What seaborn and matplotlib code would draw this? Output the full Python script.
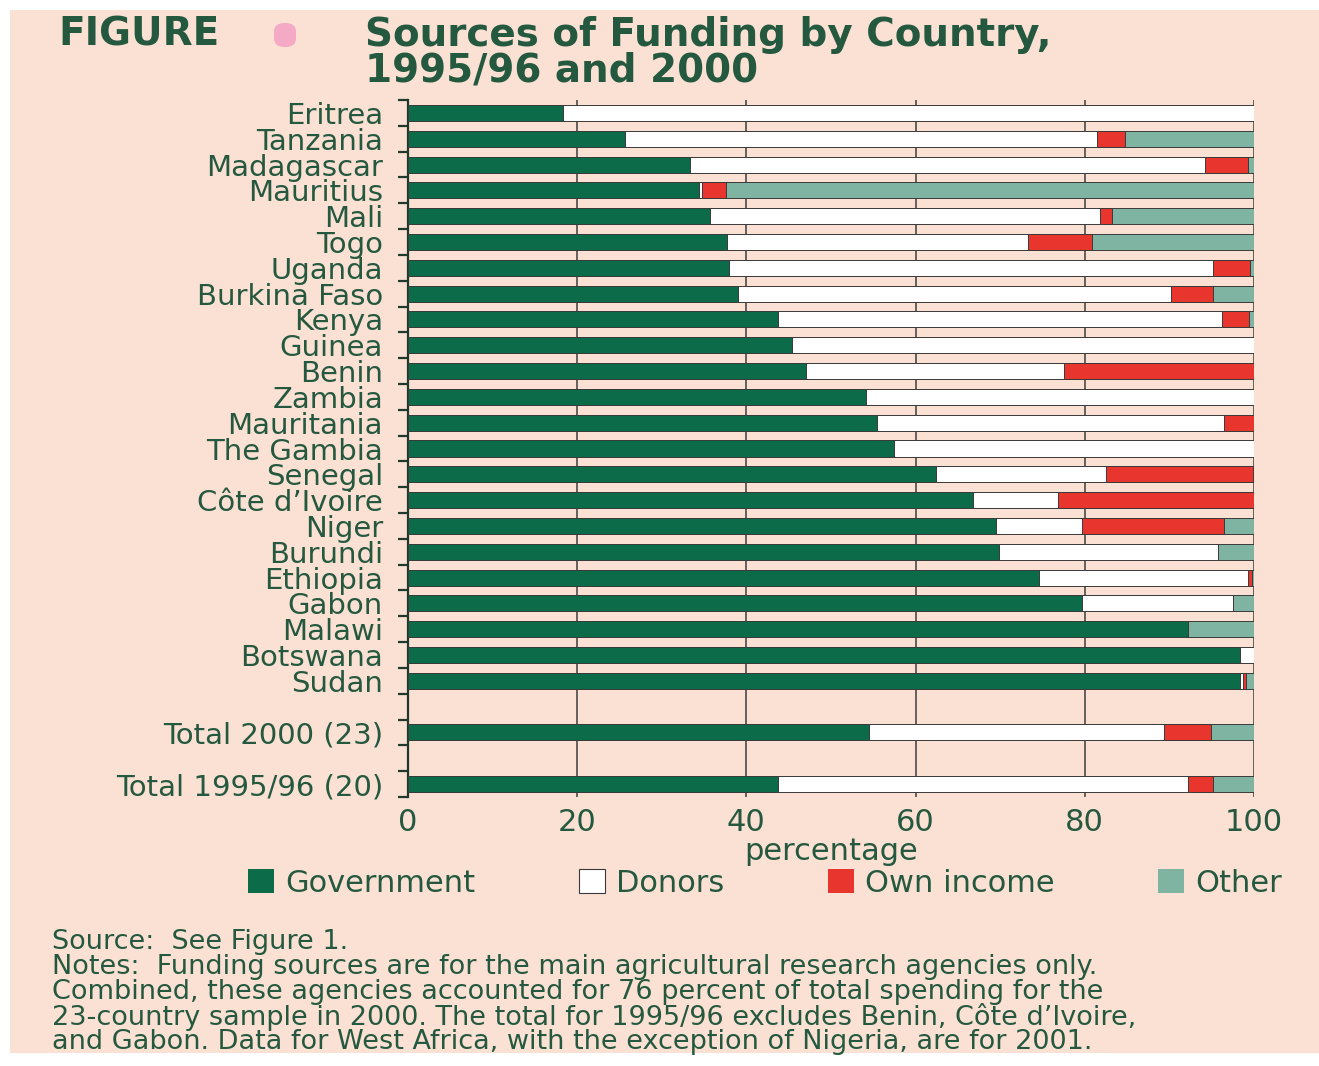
"""
Sources of funding for agricultural research agencies by country,
1995/96 and 2000 - stacked horizontal bar chart (percent shares).
"""

import matplotlib
matplotlib.use("Agg")
import matplotlib.pyplot as plt
from matplotlib.patches import Patch, Rectangle, FancyBboxPatch
import pandas as pd
import seaborn as sns

# Data (percent shares)
countries = [
    "Eritrea", "Tanzania", "Madagascar", "Mauritius", "Mali", "Togo", "Uganda",
    "Burkina Faso", "Kenya", "Guinea", "Benin", "Zambia", "Mauritania",
    "The Gambia", "Senegal", "Côte d’Ivoire", "Niger", "Burundi", "Ethiopia",
    "Gabon", "Malawi", "Botswana", "Sudan",
    "Total 2000 (23)", "Total 1995/96 (20)",
]
government = [18.3, 25.6, 33.3, 34.4, 35.7, 37.7, 37.9, 39.0, 43.7, 45.4, 47.0,
              54.1, 55.4, 57.4, 62.4, 66.8, 69.5, 69.9, 74.6, 79.7, 92.2, 98.3,
              98.3, 54.5, 43.7]
donors = [81.7, 55.8, 60.9, 0.4, 46.1, 35.6, 57.2, 51.2, 52.5, 54.6, 30.5,
          45.9, 41.0, 42.6, 20.1, 10.0, 10.2, 25.9, 24.7, 17.8, 0.0, 1.7,
          0.4, 34.9, 48.5]
own_income = [0.0, 3.4, 5.1, 2.8, 1.4, 7.5, 4.4, 4.9, 3.2, 0.0, 22.5,
              0.0, 3.6, 0.0, 17.4, 23.2, 16.7, 0.0, 0.5, 0.0, 0.0, 0.0,
              0.3, 5.5, 3.0]
other = [0.0, 15.2, 0.7, 62.4, 16.8, 19.2, 0.5, 4.9, 0.6, 0.0, 0.0,
         0.0, 0.0, 0.0, 0.1, 0.0, 3.6, 4.2, 0.2, 2.5, 7.8, 0.0,
         1.0, 5.1, 4.8]

series_names = ["Government", "Donors", "Own income", "Other"]
x_ticks = [0, 20, 40, 60, 80, 100]

# Colours
GREEN = "#0c6b48"
RED = "#e8362f"
TEAL = "#7fb4a2"
WHITE = "#ffffff"
PEACH = "#fbe0d4"
TEXT = "#25593f"
EDGE = "#3a3a3a"

# Category order with blank slots between countries and totals
order = countries[:23] + ["gap1", countries[23], "gap2", countries[24]]
tick_labels = [c if not c.startswith("gap") else "" for c in order]

df = pd.DataFrame({
    "country": countries,
    "Government": government,
    "Donors": donors,
    "Own income": own_income,
    "Other": other,
})
df["c_gov"] = df["Government"]
df["c_don"] = df["c_gov"] + df["Donors"]
df["c_own"] = df["c_don"] + df["Own income"]
df["c_all"] = df["c_own"] + df["Other"]

plt.rcParams["font.family"] = ["DejaVu Sans"]

fig = plt.figure(figsize=(13.19, 10.66), dpi=100, facecolor="white")
fig.patches.append(Rectangle((10 / 1319, 13 / 1066), 1, 1043 / 1066,
                             transform=fig.transFigure, facecolor=PEACH,
                             edgecolor="none", zorder=-10))

ax = fig.add_axes([408 / 1319, 1 - 797 / 1066, 846 / 1319, 697 / 1066])
ax.set_facecolor(PEACH)

# Stacked bars: draw cumulative totals from the largest down
layers = [("c_all", TEAL), ("c_own", RED), ("c_don", WHITE), ("c_gov", GREEN)]
for col, colour in layers:
    sns.barplot(data=df, x=col, y="country", order=order, color=colour,
                width=0.62, edgecolor=EDGE, linewidth=0.7, errorbar=None,
                saturation=1, ax=ax, zorder=3)

ax.set_xlim(0, 100)
ax.set_ylim(26.5, -0.5)
ax.set_xticks(x_ticks)
ax.set_xticklabels([str(t) for t in x_ticks])
ax.set_yticks(range(len(order)))
ax.set_yticklabels(tick_labels)
ax.set_yticks([i - 0.5 for i in range(len(order) + 1)], minor=True)

ax.set_axisbelow(True)
ax.grid(axis="x", color="#4a4a4a", linewidth=1.2, zorder=0)
ax.grid(axis="y", visible=False)

for side in ["top", "right", "bottom"]:
    ax.spines[side].set_visible(False)
ax.spines["left"].set_color("#1f3a2c")
ax.spines["left"].set_linewidth(1.6)

ax.tick_params(axis="y", which="major", length=0, pad=18, labelsize=21,
               labelcolor=TEXT)
ax.tick_params(axis="y", which="minor", length=7, width=1.6, color="#1f3a2c",
               direction="out")
ax.tick_params(axis="x", length=0, pad=8, labelsize=22, labelcolor=TEXT)

ax.set_xlabel("percentage", fontsize=22, color=TEXT, labelpad=0)
ax.set_ylabel("")

# Legend
handles = [
    Patch(facecolor=GREEN, edgecolor="none"),
    Patch(facecolor=WHITE, edgecolor=EDGE, linewidth=0.8),
    Patch(facecolor=RED, edgecolor="none"),
    Patch(facecolor=TEAL, edgecolor="none"),
]
leg = fig.legend(handles, series_names, loc="center",
                 bbox_to_anchor=(765 / 1319, 1 - 883 / 1066), ncol=4,
                 frameon=False, fontsize=22, handlelength=0.85,
                 handleheight=0.85, handletextpad=0.35, columnspacing=3.4)
for t in leg.get_texts():
    t.set_color(TEXT)

# Title block
fig.text(58 / 1319, 1 - 35 / 1066, "FIGURE", fontsize=28, fontweight="bold",
         color=TEXT, va="center", ha="left")
fig.patches.append(FancyBboxPatch((274 / 1319, 1 - 47 / 1066), 22 / 1319, 24 / 1066,
                                  boxstyle="round,pad=0.0,rounding_size=0.008",
                                  transform=fig.transFigure, facecolor="#f4a9c4",
                                  edgecolor="none"))
fig.text(365 / 1319, 1 - 53 / 1066,
         "Sources of Funding by Country,\n1995/96 and 2000",
         fontsize=28, fontweight="bold", color=TEXT, va="center", ha="left",
         linespacing=0.92)

# Source and notes
notes = [
    "Source:  See Figure 1.",
    "Notes:  Funding sources are for the main agricultural research agencies only.",
    "Combined, these agencies accounted for 76 percent of total spending for the",
    "23-country sample in 2000. The total for 1995/96 excludes Benin, Côte d’Ivoire,",
    "and Gabon. Data for West Africa, with the exception of Nigeria, are for 2001.",
]
for i, line in enumerate(notes):
    fig.text(52 / 1319, 1 - (942 + 25 * i) / 1066, line, fontsize=19.5,
             color=TEXT, va="center", ha="left")

fig.savefig("out.png", dpi=100, facecolor="white")
